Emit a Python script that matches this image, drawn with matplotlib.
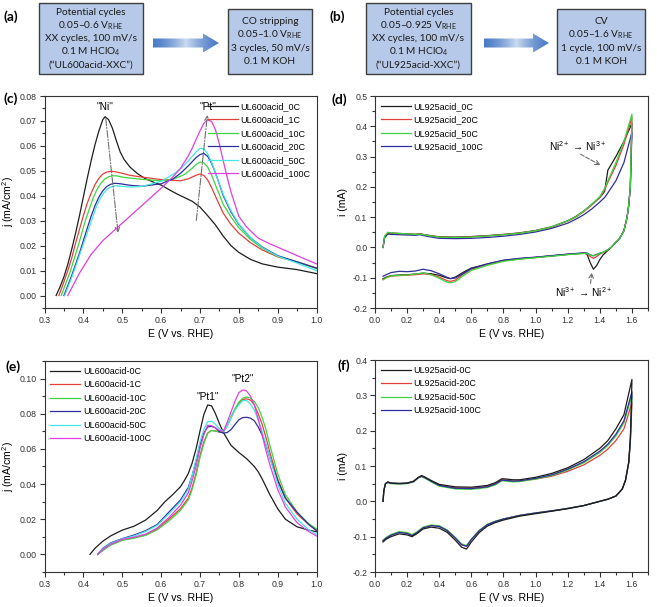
import numpy as np
import matplotlib
matplotlib.use("Agg")
import matplotlib.pyplot as plt
from matplotlib.patches import Rectangle, Polygon
from matplotlib.ticker import MultipleLocator, FormatStrFormatter

plt.rcParams['font.family'] = ['Liberation Sans', 'DejaVu Sans']
plt.rcParams['mathtext.fontset'] = 'custom'
plt.rcParams['mathtext.rm'] = 'Liberation Sans'

# ---------------- data ----------------
# (c) UL600acid, potential cycles 0.05-0.6 V, CO stripping
c_labels = ["UL600acid_0C", "UL600acid_1C", "UL600acid_10C", "UL600acid_20C", "UL600acid_50C", "UL600acid_100C"]
c_E_0C = [0.330, 0.34, 0.35, 0.36, 0.37, 0.38, 0.39, 0.40, 0.41, 0.42, 0.43, 0.44, 0.45, 0.456, 0.465, 0.475, 0.485, 0.495, 0.505, 0.52, 0.54, 0.56, 0.58, 0.6, 0.62, 0.64, 0.66, 0.68, 0.70, 0.72, 0.74, 0.76, 0.78, 0.80, 0.83, 0.86, 0.9, 0.95, 1.0]
c_j_0C = [0.0, 0.0035, 0.0075, 0.0125, 0.0185, 0.025, 0.032, 0.0395, 0.047, 0.054, 0.0605, 0.066, 0.0705, 0.0717, 0.0705, 0.067, 0.062, 0.0575, 0.0545, 0.0515, 0.0488, 0.0468, 0.0455, 0.0443, 0.0425, 0.0408, 0.0393, 0.0378, 0.0355, 0.032, 0.0283, 0.0238, 0.0200, 0.0173, 0.0145, 0.0127, 0.0114, 0.0104, 0.0088]
c_E_1C = [0.337, 0.35, 0.36, 0.37, 0.38, 0.39, 0.40, 0.41, 0.42, 0.43, 0.44, 0.45, 0.46, 0.47, 0.48, 0.5, 0.52, 0.55, 0.6, 0.65, 0.67, 0.69, 0.70, 0.71, 0.72, 0.73, 0.74, 0.76, 0.78, 0.80, 0.83, 0.86, 0.9, 0.95, 1.0]
c_j_1C = [0.0, 0.0055, 0.010, 0.015, 0.021, 0.0265, 0.032, 0.037, 0.041, 0.0445, 0.047, 0.0487, 0.0495, 0.0498, 0.0497, 0.0490, 0.0482, 0.0475, 0.0465, 0.046, 0.0468, 0.0482, 0.0487, 0.0482, 0.0463, 0.0433, 0.0398, 0.0330, 0.0285, 0.0250, 0.0212, 0.0183, 0.0155, 0.0135, 0.011]
c_E_10C = [0.343, 0.355, 0.365, 0.375, 0.385, 0.395, 0.405, 0.415, 0.425, 0.435, 0.445, 0.455, 0.465, 0.475, 0.485, 0.5, 0.52, 0.55, 0.6, 0.63, 0.66, 0.68, 0.69, 0.70, 0.71, 0.72, 0.73, 0.74, 0.76, 0.78, 0.80, 0.83, 0.86, 0.9, 0.95, 1.0]
c_j_10C = [0.0, 0.005, 0.009, 0.014, 0.019, 0.0245, 0.030, 0.0345, 0.039, 0.0425, 0.045, 0.0467, 0.0476, 0.048, 0.048, 0.0475, 0.0471, 0.0466, 0.046, 0.0466, 0.0485, 0.051, 0.0525, 0.0535, 0.0532, 0.0515, 0.0483, 0.0443, 0.0365, 0.0315, 0.0272, 0.0225, 0.019, 0.0157, 0.0135, 0.0108]
c_E_20C = [0.35, 0.36, 0.37, 0.38, 0.39, 0.40, 0.41, 0.42, 0.43, 0.44, 0.45, 0.46, 0.47, 0.48, 0.49, 0.5, 0.52, 0.55, 0.6, 0.63, 0.65, 0.67, 0.69, 0.70, 0.71, 0.72, 0.73, 0.74, 0.76, 0.78, 0.80, 0.83, 0.86, 0.9, 0.95, 1.0]
c_j_20C = [0.0, 0.004, 0.008, 0.0125, 0.017, 0.022, 0.027, 0.0318, 0.036, 0.0395, 0.042, 0.0437, 0.0446, 0.045, 0.0449, 0.0447, 0.0442, 0.0438, 0.0448, 0.0467, 0.049, 0.052, 0.0553, 0.0565, 0.057, 0.0558, 0.053, 0.0492, 0.040, 0.0335, 0.0285, 0.0232, 0.0195, 0.016, 0.0135, 0.011]
c_E_50C = [0.352, 0.362, 0.372, 0.382, 0.392, 0.402, 0.412, 0.422, 0.432, 0.442, 0.452, 0.462, 0.472, 0.482, 0.5, 0.52, 0.55, 0.6, 0.63, 0.65, 0.67, 0.69, 0.70, 0.71, 0.72, 0.73, 0.74, 0.76, 0.78, 0.80, 0.83, 0.86, 0.9, 0.95, 1.0]
c_j_50C = [0.0, 0.004, 0.008, 0.0125, 0.017, 0.0215, 0.026, 0.0305, 0.035, 0.0385, 0.041, 0.0428, 0.0436, 0.044, 0.0438, 0.0435, 0.0437, 0.0458, 0.0485, 0.0507, 0.054, 0.0575, 0.059, 0.0588, 0.0568, 0.0535, 0.049, 0.0405, 0.034, 0.0287, 0.0232, 0.0193, 0.0158, 0.0130, 0.010]
c_E_100C = [0.36, 0.37, 0.38, 0.39, 0.40, 0.42, 0.45, 0.5, 0.55, 0.6, 0.63, 0.65, 0.67, 0.68, 0.69, 0.70, 0.71, 0.72, 0.73, 0.74, 0.75, 0.76, 0.77, 0.78, 0.80, 0.82, 0.85, 0.88, 0.9, 0.95, 1.0]
c_j_100C = [0.0, 0.003, 0.006, 0.009, 0.0115, 0.0165, 0.022, 0.029, 0.036, 0.043, 0.0475, 0.051, 0.056, 0.059, 0.0625, 0.066, 0.069, 0.0705, 0.0698, 0.0665, 0.0608, 0.0540, 0.0475, 0.0415, 0.0318, 0.0275, 0.0230, 0.0207, 0.0194, 0.016, 0.0127]

# (d) UL925acid CVs in KOH
d_labels = ["UL925acid_0C", "UL925acid_20C", "UL925acid_50C", "UL925acid_100C"]
d_E_fwd = [0.05, 0.06, 0.08, 0.1, 0.15, 0.2, 0.25, 0.28, 0.32, 0.4, 0.5, 0.6, 0.7, 0.8, 0.9, 1.0, 1.1, 1.2, 1.25, 1.3, 1.35, 1.4, 1.43, 1.45, 1.5, 1.55, 1.6]
d_i_fwd_0C = [0.0, 0.035, 0.047, 0.047, 0.046, 0.045, 0.043, 0.045, 0.041, 0.035, 0.034, 0.036, 0.039, 0.043, 0.048, 0.056, 0.068, 0.088, 0.102, 0.12, 0.142, 0.165, 0.185, 0.255, 0.30, 0.35, 0.41]
d_i_fwd_20C = [0.0, 0.036, 0.048, 0.047, 0.046, 0.045, 0.043, 0.044, 0.040, 0.034, 0.033, 0.035, 0.038, 0.042, 0.047, 0.055, 0.067, 0.087, 0.100, 0.118, 0.140, 0.165, 0.19, 0.215, 0.27, 0.34, 0.43]
d_i_fwd_50C = [0.0, 0.038, 0.050, 0.048, 0.046, 0.045, 0.043, 0.044, 0.040, 0.034, 0.033, 0.034, 0.038, 0.042, 0.047, 0.055, 0.068, 0.088, 0.101, 0.12, 0.143, 0.168, 0.195, 0.22, 0.28, 0.35, 0.44]
d_i_fwd_100C = [0.0, 0.032, 0.044, 0.043, 0.042, 0.041, 0.040, 0.042, 0.037, 0.030, 0.029, 0.030, 0.033, 0.037, 0.043, 0.051, 0.063, 0.080, 0.093, 0.108, 0.127, 0.15, 0.165, 0.18, 0.22, 0.28, 0.38]
d_E_rev = [1.6, 1.59, 1.58, 1.57, 1.55, 1.52, 1.5, 1.47, 1.45, 1.42, 1.4, 1.38, 1.36, 1.34, 1.32, 1.3, 1.2, 1.1, 1.0, 0.9, 0.8, 0.7, 0.6, 0.55, 0.5, 0.47, 0.45, 0.4, 0.35, 0.3, 0.25, 0.2, 0.15, 0.1, 0.07, 0.05]
d_i_rev_0C = [0.41, 0.2, 0.14, 0.10, 0.055, 0.027, 0.017, 0.0, -0.01, -0.025, -0.04, -0.06, -0.072, -0.05, -0.022, -0.019, -0.023, -0.028, -0.033, -0.037, -0.043, -0.055, -0.068, -0.082, -0.098, -0.103, -0.101, -0.092, -0.087, -0.085, -0.088, -0.090, -0.091, -0.093, -0.098, -0.103]
d_i_rev_20C = [0.43, 0.2, 0.14, 0.10, 0.055, 0.027, 0.017, 0.0, -0.008, -0.017, -0.022, -0.03, -0.036, -0.03, -0.02, -0.019, -0.023, -0.028, -0.033, -0.038, -0.044, -0.057, -0.072, -0.088, -0.108, -0.112, -0.110, -0.098, -0.090, -0.087, -0.090, -0.092, -0.093, -0.095, -0.100, -0.106]
d_i_rev_50C = [0.44, 0.2, 0.14, 0.10, 0.055, 0.027, 0.017, 0.0, -0.008, -0.016, -0.019, -0.024, -0.028, -0.026, -0.019, -0.02, -0.024, -0.029, -0.034, -0.039, -0.046, -0.059, -0.076, -0.093, -0.113, -0.117, -0.115, -0.102, -0.090, -0.084, -0.088, -0.091, -0.092, -0.094, -0.100, -0.107]
d_i_rev_100C = [0.38, 0.2, 0.14, 0.10, 0.055, 0.027, 0.017, 0.0, -0.008, -0.016, -0.019, -0.023, -0.027, -0.025, -0.018, -0.018, -0.022, -0.027, -0.032, -0.036, -0.042, -0.054, -0.070, -0.086, -0.101, -0.103, -0.099, -0.087, -0.077, -0.072, -0.078, -0.080, -0.079, -0.083, -0.090, -0.095]

# (e) UL600acid, potential cycles 0.05-1.0 V, CO stripping
e_labels = ["UL600acid-0C", "UL600acid-1C", "UL600acid-10C", "UL600acid-20C", "UL600acid-50C", "UL600acid-100C"]
e_E_0C = [0.417, 0.43, 0.45, 0.47, 0.5, 0.53, 0.56, 0.59, 0.61, 0.63, 0.65, 0.66, 0.67, 0.68, 0.69, 0.70, 0.71, 0.72, 0.73, 0.74, 0.75, 0.76, 0.78, 0.8, 0.82, 0.84, 0.85, 0.86, 0.87, 0.88, 0.9, 0.92, 0.95, 0.98, 1.0]
e_j_0C = [0.0, 0.0035, 0.0075, 0.0105, 0.0138, 0.016, 0.0195, 0.025, 0.030, 0.034, 0.0385, 0.042, 0.046, 0.052, 0.060, 0.070, 0.0795, 0.085, 0.0845, 0.080, 0.0745, 0.0695, 0.062, 0.058, 0.0545, 0.050, 0.047, 0.043, 0.0385, 0.034, 0.026, 0.020, 0.0157, 0.0138, 0.0129]
e_E = [0.437, 0.45, 0.47, 0.5, 0.53, 0.56, 0.59, 0.62, 0.65, 0.67, 0.68, 0.69, 0.70, 0.71, 0.72, 0.73, 0.74, 0.75, 0.76, 0.77, 0.78, 0.79, 0.80, 0.81, 0.82, 0.83, 0.84, 0.85, 0.86, 0.87, 0.88, 0.9, 0.92, 0.95, 0.98, 1.0]
e_j_1C = [0.0, 0.0025, 0.0055, 0.0083, 0.0095, 0.0112, 0.0145, 0.020, 0.026, 0.032, 0.038, 0.046, 0.056, 0.064, 0.069, 0.0705, 0.0702, 0.0695, 0.0695, 0.073, 0.078, 0.0825, 0.086, 0.088, 0.0885, 0.0878, 0.085, 0.080, 0.074, 0.0665, 0.058, 0.043, 0.032, 0.023, 0.017, 0.014]
e_j_10C = [0.0, 0.0022, 0.0052, 0.0080, 0.0092, 0.0108, 0.014, 0.019, 0.025, 0.031, 0.037, 0.045, 0.055, 0.063, 0.069, 0.0705, 0.0702, 0.0697, 0.0697, 0.073, 0.078, 0.0828, 0.0865, 0.0888, 0.0895, 0.089, 0.087, 0.0835, 0.078, 0.071, 0.062, 0.046, 0.034, 0.024, 0.0175, 0.0145]
e_j_20C = [0.0, 0.0035, 0.0065, 0.009, 0.011, 0.0135, 0.017, 0.024, 0.031, 0.038, 0.045, 0.053, 0.062, 0.069, 0.0725, 0.0728, 0.072, 0.0698, 0.069, 0.0693, 0.071, 0.0738, 0.0765, 0.0778, 0.078, 0.0775, 0.076, 0.0725, 0.068, 0.062, 0.055, 0.042, 0.032, 0.024, 0.017, 0.0135]
e_j_50C = [0.0, 0.0032, 0.0062, 0.0088, 0.0105, 0.013, 0.0165, 0.023, 0.030, 0.037, 0.045, 0.054, 0.064, 0.071, 0.0755, 0.0758, 0.074, 0.0715, 0.070, 0.073, 0.0775, 0.082, 0.085, 0.0875, 0.0875, 0.0855, 0.082, 0.0765, 0.070, 0.0625, 0.055, 0.040, 0.029, 0.020, 0.014, 0.0115]
e_j_100C = [0.0, 0.0028, 0.0058, 0.0085, 0.0098, 0.0115, 0.015, 0.021, 0.028, 0.035, 0.042, 0.050, 0.060, 0.068, 0.0735, 0.0732, 0.072, 0.0705, 0.070, 0.075, 0.081, 0.087, 0.092, 0.0935, 0.093, 0.090, 0.085, 0.077, 0.068, 0.059, 0.051, 0.037, 0.027, 0.018, 0.013, 0.0105]

# (f) UL925acid CVs in KOH
f_labels = ["UL925acid-0C", "UL925acid-20C", "UL925acid-50C", "UL925acid-100C"]
f_E_fwd = [0.05, 0.055, 0.065, 0.08, 0.1, 0.15, 0.2, 0.24, 0.27, 0.29, 0.31, 0.35, 0.4, 0.5, 0.6, 0.7, 0.75, 0.79, 0.82, 0.86, 0.9, 1.0, 1.1, 1.2, 1.3, 1.4, 1.45, 1.5, 1.55, 1.6]
f_i_fwd_0C = [0.0, 0.03, 0.05, 0.055, 0.052, 0.051, 0.052, 0.057, 0.068, 0.073, 0.069, 0.059, 0.048, 0.041, 0.040, 0.045, 0.053, 0.064, 0.063, 0.061, 0.061, 0.068, 0.079, 0.095, 0.118, 0.150, 0.172, 0.205, 0.245, 0.345]
f_i_fwd_20C = [0.0, 0.03, 0.05, 0.054, 0.051, 0.050, 0.051, 0.056, 0.067, 0.071, 0.067, 0.057, 0.045, 0.038, 0.037, 0.042, 0.050, 0.061, 0.060, 0.057, 0.057, 0.063, 0.071, 0.085, 0.103, 0.130, 0.148, 0.172, 0.205, 0.28]
f_i_fwd_50C = [0.0, 0.03, 0.05, 0.053, 0.050, 0.049, 0.050, 0.055, 0.066, 0.070, 0.066, 0.055, 0.043, 0.035, 0.034, 0.039, 0.047, 0.058, 0.057, 0.055, 0.056, 0.063, 0.073, 0.089, 0.109, 0.138, 0.158, 0.185, 0.222, 0.30]
f_i_fwd_100C = [0.0, 0.03, 0.05, 0.054, 0.051, 0.050, 0.051, 0.056, 0.067, 0.071, 0.067, 0.057, 0.045, 0.037, 0.036, 0.041, 0.049, 0.060, 0.059, 0.057, 0.058, 0.065, 0.075, 0.091, 0.112, 0.142, 0.162, 0.190, 0.228, 0.31]
f_E_rev = [1.6, 1.595, 1.59, 1.58, 1.56, 1.54, 1.5, 1.45, 1.4, 1.3, 1.2, 1.1, 1.0, 0.9, 0.8, 0.75, 0.7, 0.65, 0.6, 0.57, 0.54, 0.5, 0.45, 0.4, 0.35, 0.3, 0.26, 0.23, 0.2, 0.15, 0.1, 0.07, 0.05]
f_i_rev_0C = [0.345, 0.25, 0.18, 0.11, 0.06, 0.035, 0.015, 0.006, 0.0, -0.012, -0.021, -0.028, -0.035, -0.042, -0.053, -0.060, -0.070, -0.088, -0.115, -0.135, -0.130, -0.110, -0.088, -0.076, -0.073, -0.078, -0.092, -0.100, -0.095, -0.092, -0.100, -0.107, -0.115]
f_i_rev_20C = [0.28, 0.22, 0.17, 0.11, 0.06, 0.035, 0.015, 0.006, 0.0, -0.012, -0.020, -0.027, -0.033, -0.040, -0.050, -0.057, -0.066, -0.083, -0.108, -0.127, -0.123, -0.104, -0.083, -0.071, -0.068, -0.074, -0.088, -0.096, -0.090, -0.087, -0.095, -0.103, -0.111]
f_i_rev_50C = [0.30, 0.23, 0.17, 0.11, 0.06, 0.035, 0.015, 0.006, 0.0, -0.012, -0.020, -0.027, -0.033, -0.040, -0.050, -0.056, -0.065, -0.082, -0.107, -0.125, -0.121, -0.102, -0.081, -0.069, -0.067, -0.073, -0.087, -0.094, -0.088, -0.086, -0.094, -0.102, -0.110]
f_i_rev_100C = [0.31, 0.23, 0.17, 0.11, 0.06, 0.035, 0.015, 0.006, 0.0, -0.012, -0.020, -0.027, -0.033, -0.040, -0.050, -0.057, -0.066, -0.083, -0.108, -0.127, -0.123, -0.104, -0.083, -0.071, -0.069, -0.075, -0.089, -0.097, -0.091, -0.088, -0.096, -0.104, -0.112]

# ---------------- style ----------------
C_BLACK = '#1e1e1e'
C_RED = '#e2403a'
C_GREEN = '#3fd43f'
C_NAVY = '#2f2f9c'
C_CYAN = '#45e6e6'
C_MAG = '#e040e0'
six_colors = [C_BLACK, C_RED, C_GREEN, C_NAVY, C_CYAN, C_MAG]
four_colors = [C_BLACK, C_RED, C_GREEN, C_NAVY]
LW = 0.9

W, H = 657, 607
fig = plt.figure(figsize=(W / 100, H / 100), dpi=100)


def ax_rect(x0, y0, x1, y1):
    return [x0 / W, 1 - y1 / H, (x1 - x0) / W, (y1 - y0) / H]


TICK_FS = 6.3
LAB_FS = 7.6
LEG_FS = 6.5


def style(ax, xs, xm, ys, ym, yfmt):
    ax.xaxis.set_major_locator(MultipleLocator(xs))
    ax.xaxis.set_minor_locator(MultipleLocator(xm))
    ax.yaxis.set_major_locator(MultipleLocator(ys))
    ax.yaxis.set_minor_locator(MultipleLocator(ym))
    ax.xaxis.set_major_formatter(FormatStrFormatter('%.1f'))
    ax.yaxis.set_major_formatter(FormatStrFormatter(yfmt))
    for s in ax.spines.values():
        s.set_color('#333333')
        s.set_linewidth(0.8)
    ax.tick_params(which='both', direction='out', top=False, right=False,
                   labelsize=TICK_FS, colors='#333333', width=0.8, pad=2)
    ax.tick_params(which='major', length=3.5)
    ax.tick_params(which='minor', length=2)
    ax.set_xlabel('E (V vs. RHE)', fontsize=LAB_FS, labelpad=3)


leg_kw = dict(frameon=False, fontsize=LEG_FS, handlelength=3.3,
              labelspacing=0.5, handletextpad=0.3, borderaxespad=0.25)

# ---- (c)
axc = fig.add_axes(ax_rect(44.5, 96, 316.5, 308))
c_E = [c_E_0C, c_E_1C, c_E_10C, c_E_20C, c_E_50C, c_E_100C]
c_j = [c_j_0C, c_j_1C, c_j_10C, c_j_20C, c_j_50C, c_j_100C]
for E, j, col, lab in zip(c_E, c_j, six_colors, c_labels):
    axc.plot(E, j, color=col, lw=LW, label=lab)
axc.set_xlim(0.3, 1.0)
axc.set_ylim(-0.005, 0.08)
style(axc, 0.1, 0.05, 0.01, 0.005, '%.2f')
axc.set_ylabel('j (mA/cm$^{2}$)', fontsize=LAB_FS, labelpad=3)
axc.legend(loc='upper right', **leg_kw)
axc.text(0.456, 0.0757, '"Ni"', ha='center', va='center', fontsize=7.3)
axc.text(0.72, 0.0757, '"Pt"', ha='center', va='center', fontsize=7.3)
arrow_kw = dict(arrowstyle='->', color='#707070', lw=0.8, linestyle='-.', mutation_scale=8)
axc.annotate('', xy=(0.49, 0.024), xytext=(0.457, 0.072), arrowprops=arrow_kw)
axc.annotate('', xy=(0.72, 0.0735), xytext=(0.69, 0.029), arrowprops=arrow_kw)

# ---- (d)
axd = fig.add_axes(ax_rect(375, 96, 648, 308))
d_fwd = [d_i_fwd_0C, d_i_fwd_20C, d_i_fwd_50C, d_i_fwd_100C]
d_rev = [d_i_rev_0C, d_i_rev_20C, d_i_rev_50C, d_i_rev_100C]
handles = {}
for k in [0, 1, 3, 2]:
    ln, = axd.plot(d_E_fwd + d_E_rev, d_fwd[k] + d_rev[k], color=four_colors[k], lw=LW)
    handles[k] = ln
axd.legend([handles[k] for k in range(4)], d_labels, loc='upper left', **leg_kw)
axd.set_xlim(0.0, 1.7)
axd.set_ylim(-0.2, 0.5)
style(axd, 0.2, 0.1, 0.1, 0.05, '%.1f')
axd.set_ylabel('i (mA)', fontsize=LAB_FS, labelpad=3)
axd.text(1.265, 0.335, 'Ni$^{2+}$ → Ni$^{3+}$', ha='center', va='center', fontsize=7.3)
axd.text(1.30, -0.148, 'Ni$^{3+}$ → Ni$^{2+}$', ha='center', va='center', fontsize=7.3)
arrow_kw2 = dict(arrowstyle='->', color='#707070', lw=0.8, linestyle='--', mutation_scale=8)
axd.annotate('', xy=(1.42, 0.267), xytext=(1.265, 0.312), arrowprops=arrow_kw2)
axd.annotate('', xy=(1.352, -0.074), xytext=(1.34, -0.128), arrowprops=arrow_kw2)

# ---- (e)
axe = fig.add_axes(ax_rect(44.5, 361, 316.5, 572))
e_Es = [e_E_0C, e_E, e_E, e_E, e_E, e_E]
e_js = [e_j_0C, e_j_1C, e_j_10C, e_j_20C, e_j_50C, e_j_100C]
for E, j, col, lab in zip(e_Es, e_js, six_colors, e_labels):
    axe.plot(E, j, color=col, lw=LW, label=lab)
axe.set_xlim(0.3, 1.0)
axe.set_ylim(-0.01, 0.11)
style(axe, 0.1, 0.05, 0.02, 0.01, '%.2f')
axe.set_ylabel('j (mA/cm$^{2}$)', fontsize=LAB_FS, labelpad=3)
axe.legend(loc='upper left', **leg_kw)
axe.text(0.72, 0.0895, '"Pt1"', ha='center', va='center', fontsize=7.3)
axe.text(0.81, 0.0995, '"Pt2"', ha='center', va='center', fontsize=7.3)

# ---- (f)
axf = fig.add_axes(ax_rect(375, 360, 648, 572))
f_fwd = [f_i_fwd_0C, f_i_fwd_20C, f_i_fwd_50C, f_i_fwd_100C]
f_rev = [f_i_rev_0C, f_i_rev_20C, f_i_rev_50C, f_i_rev_100C]
handles = {}
for k in [1, 2, 3, 0]:
    ln, = axf.plot(f_E_fwd + f_E_rev, f_fwd[k] + f_rev[k], color=four_colors[k], lw=LW)
    handles[k] = ln
axf.legend([handles[k] for k in range(4)], f_labels, loc='upper left', **leg_kw)
axf.set_xlim(0.0, 1.7)
axf.set_ylim(-0.2, 0.4)
style(axf, 0.2, 0.1, 0.1, 0.05, '%.1f')
axf.set_ylabel('i (mA)', fontsize=LAB_FS, labelpad=3)

# ---------------- overlay: schemes and panel letters ----------------
ov = fig.add_axes([0, 0, 1, 1], zorder=-1)
ov.set_xlim(0, W)
ov.set_ylim(H, 0)
ov.axis('off')

BOX_FC = '#b7c9e8'
BOX_EC = '#3f3f3f'
BOX_FONT = ['Lato', 'DejaVu Sans']


def scheme_box(x0, y0, x1, y1, lines):
    ov.add_patch(Rectangle((x0, y0), x1 - x0, y1 - y0, facecolor=BOX_FC, edgecolor=BOX_EC, lw=1.0))
    n = len(lines)
    cy = (y0 + y1) / 2
    sp = 13.2
    for k, t in enumerate(lines):
        ov.text((x0 + x1) / 2, cy + (k - (n - 1) / 2) * sp, t, ha='center', va='center',
                fontsize=7.3, family=BOX_FONT, color='#1a1a1a')


def grad_arrow(x0, x1, yc):
    shaft_h = 9
    head_h = 19
    head_l = 16
    pts = [(x0, yc - shaft_h / 2), (x1 - head_l, yc - shaft_h / 2), (x1 - head_l, yc - head_h / 2),
           (x1, yc), (x1 - head_l, yc + head_h / 2), (x1 - head_l, yc + shaft_h / 2), (x0, yc + shaft_h / 2)]
    poly = Polygon(pts, closed=True, facecolor='none', edgecolor='none')
    ov.add_patch(poly)
    t = np.linspace(0, 1, 200)
    blue = np.array([0.30, 0.49, 0.78])
    light = np.array([0.80, 0.86, 0.94])
    w = np.clip(1 - np.abs(t - 0.5) / 0.5, 0, 1) ** 1.5
    cols = blue[None, :] * (1 - w[:, None]) + light[None, :] * w[:, None]
    img = cols[None, :, :]
    im = ov.imshow(img, extent=[x0, x1, yc + head_h / 2, yc - head_h / 2], aspect='auto',
                   interpolation='bilinear', zorder=2)
    im.set_clip_path(poly)


scheme_box(39, 3, 143, 74, ['Potential cycles', '0.05–0.6 V$_{\\mathregular{RHE}}$',
                            'XX cycles, 100 mV/s', '0.1 M HClO$_{\\mathregular{4}}$', '(“UL600acid-XXC”)'])
scheme_box(228, 9, 312, 74, ['CO stripping', '0.05–1.0 V$_{\\mathregular{RHE}}$',
                             '3 cycles, 50 mV/s', '0.1 M KOH'])
grad_arrow(153, 219, 43)
scheme_box(366, 3, 471, 74, ['Potential cycles', '0.05–0.925 V$_{\\mathregular{RHE}}$',
                             'XX cycles, 100 mV/s', '0.1 M HClO$_{\\mathregular{4}}$', '(“UL925acid-XXC”)'])
scheme_box(557, 9, 645, 74, ['CV', '0.05–1.6 V$_{\\mathregular{RHE}}$',
                             '1 cycle, 100 mV/s', '0.1 M KOH'])
grad_arrow(484, 549, 43)

for txt, x, y in [('(a)', 3, 17), ('(b)', 330, 17), ('(c)', 3, 99), ('(d)', 332, 100),
                  ('(e)', 5, 367), ('(f)', 337, 366)]:
    ov.text(x, y, txt, ha='left', va='center', fontsize=10, fontweight='bold', family=BOX_FONT)

fig.savefig('out.png', dpi=100)
